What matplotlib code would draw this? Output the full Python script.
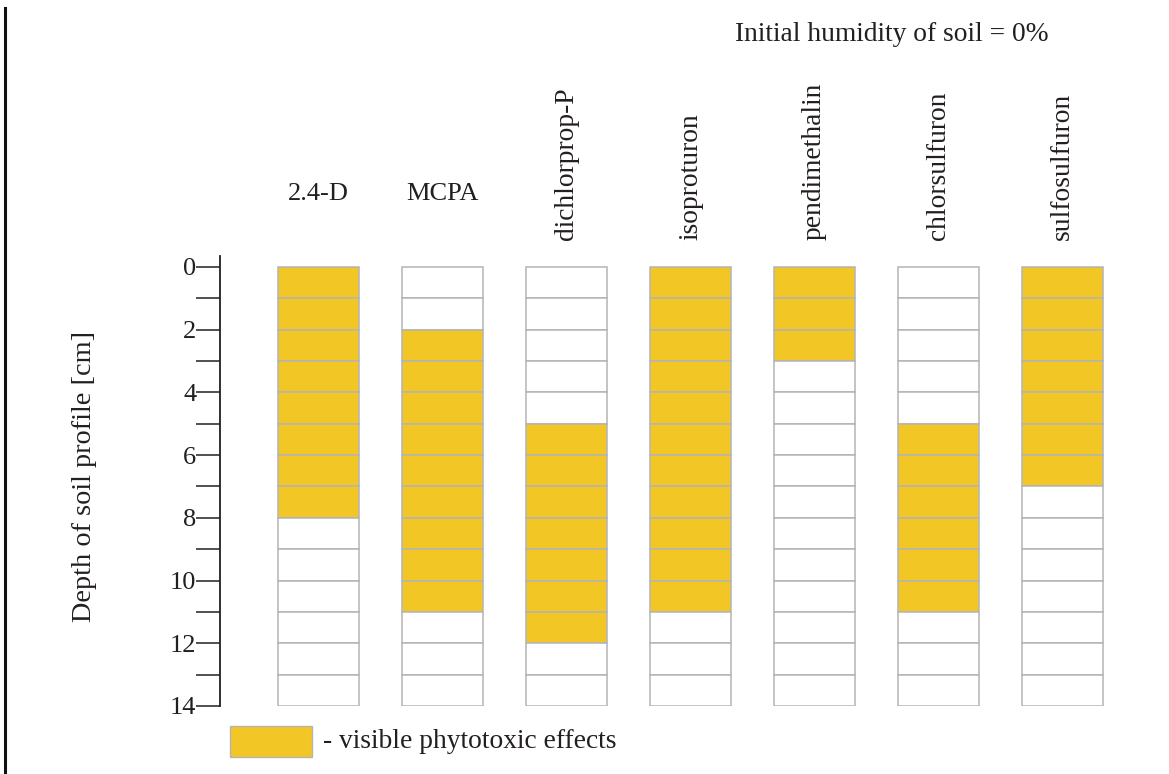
import matplotlib
matplotlib.use("Agg")
import matplotlib.pyplot as plt
from matplotlib.patches import Rectangle
from matplotlib.lines import Line2D
import numpy as np

# herbicides and depth range (cm) with visible phytotoxic effects
herbicides = ['2.4-D', 'MCPA', 'dichlorprop-P', 'isoproturon',
              'pendimethalin', 'chlorsulfuron', 'sulfosulfuron']
effect_top = [0, 2, 5, 0, 0, 5, 0]
effect_bottom = [8, 11, 12, 11, 3, 11, 7]
depth_cells = np.arange(0, 14)   # 1 cm layers, 0-14 cm
horizontal_labels = ['2.4-D', 'MCPA']

yellow = '#F2C624'
edge = '#b4b4b4'
txt = '#231f20'
plt.rcParams['font.family'] = ['Liberation Serif', 'DejaVu Serif']
fs = 19.8

fig = plt.figure(figsize=(11.69, 7.74), dpi=100)
ax = fig.add_axes([220 / 1169, 68 / 774, 910 / 1169, 450 / 774])

bar_w = 0.653
for i, name in enumerate(herbicides):
    colors = [yellow if effect_top[i] <= d < effect_bottom[i] else 'white'
              for d in depth_cells]
    ax.bar(np.full(len(depth_cells), i), 1, bottom=depth_cells, width=bar_w,
           color=colors, edgecolor=edge, linewidth=1.1)
    if name in horizontal_labels:
        ax.text(i, -2.33, name, ha='center', va='center', fontsize=19,
                color=txt, clip_on=False)
    else:
        ax.text(i, -0.85, name, ha='center', va='bottom', rotation=90,
                fontsize=fs, color=txt, clip_on=False)

ax.set_xlim(-0.794, 6.544)
ax.set_ylim(14, -0.35)
for s in ['top', 'right', 'bottom']:
    ax.spines[s].set_visible(False)
ax.spines['left'].set_linewidth(1.3)
ax.spines['left'].set_color(txt)
ax.set_xticks([])
ax.set_yticks(np.arange(0, 15, 2))
ax.set_yticks(np.arange(1, 14, 2), minor=True)
ax.tick_params(axis='y', which='both', length=17, width=1.1, color=txt,
               pad=0, labelsize=19, labelcolor=txt)
ax.set_ylabel('Depth of soil profile [cm]', fontsize=20.3, color=txt)
ax.yaxis.set_label_coords(-0.135, 0.511)

ax.text(3.359, -7.4, 'Initial humidity of soil = 0%', ha='left',
        va='center', fontsize=fs, color=txt, clip_on=False)

# legend
ax.add_patch(Rectangle((-0.714, 14.64), 0.661, 0.99, facecolor=yellow,
                       edgecolor=edge, linewidth=1, clip_on=False))
ax.text(0.036, 15.14, '- visible phytotoxic effects', ha='left',
        va='center', fontsize=fs, color=txt, clip_on=False)

# frame line on the left
fig.add_artist(Line2D([5 / 1169, 5 / 1169], [0, 766 / 774], color='#111111',
                      linewidth=2.2))

fig.savefig('out.png', dpi=100)
